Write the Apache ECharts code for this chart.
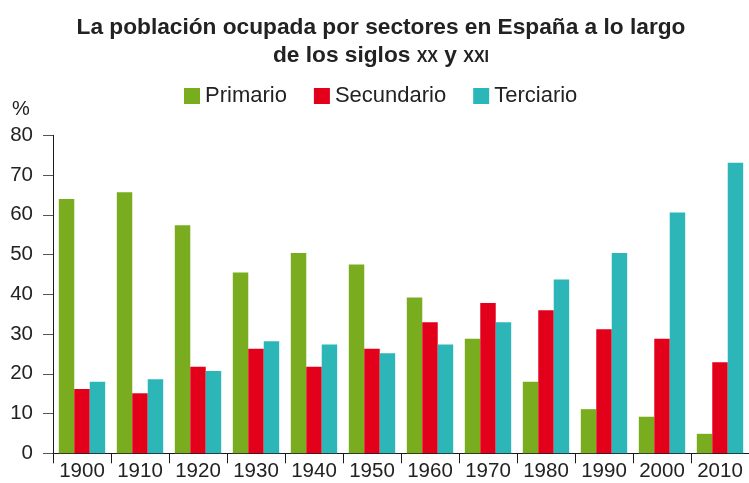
<!DOCTYPE html>
<html>
<head>
<meta charset="utf-8">
<script src="https://cdn.jsdelivr.net/npm/echarts@6/dist/echarts.min.js"></script>
<style>
html,body{margin:0;padding:0;background:#fff;}
#chart{width:749px;height:483px;}
</style>
</head>
<body>
<div id="chart"></div>
<script>
var categories = ['1900','1910','1920','1930','1940','1950','1960','1970','1980','1990','2000','2010'];
var primario   = [64.0, 65.7, 57.4, 45.5, 50.4, 47.5, 39.2, 28.8, 18.0, 11.1, 9.2, 4.9];
var secundario = [16.2, 15.1, 21.8, 26.3, 21.8, 26.3, 33.0, 37.8, 36.0, 31.2, 28.8, 22.9];
var terciario  = [18.0, 18.6, 20.7, 28.2, 27.4, 25.2, 27.4, 33.0, 43.7, 50.4, 60.6, 73.1];
var seriesNames = ['Primario', 'Secundario', 'Terciario'];
var yTicks = { min: 0, max: 80, interval: 10 };
var titleText = '{t|La población ocupada por sectores en España a lo largo}\n{t|de los siglos }{sc|XX}{t| y }{sc|XXI}';

var FONT = '"Liberation Sans", Arial, Helvetica, sans-serif';
var chart = echarts.init(document.getElementById('chart'), null, { renderer: 'canvas' });
var colors = ['#79ad1f', '#e2001a', '#2db6b8'];

chart.setOption({
  animation: false,
  backgroundColor: '#ffffff',
  color: colors,
  legend: {
    top: 85,
    left: 184,
    padding: 0,
    icon: 'rect',
    itemWidth: 16,
    itemHeight: 16,
    itemGap: 27,
    data: seriesNames,
    textStyle: { fontFamily: FONT, fontSize: 22, color: '#222' }
  },
  graphic: [{
    type: 'text',
    x: 381,
    y: 11,
    style: {
      text: titleText,
      align: 'center',
      verticalAlign: 'top',
      fontFamily: FONT,
      fontWeight: 'bold',
      fontSize: 22.7,
      lineHeight: 28,
      fill: '#222',
      rich: {
        t: { fontFamily: FONT, fontWeight: 'bold', fontSize: 22.7, lineHeight: 28, fill: '#222', verticalAlign: 'bottom' },
        sc: { fontFamily: FONT, fontWeight: 'bold', fontSize: 16, fill: '#222', verticalAlign: 'bottom', padding: [0, 0, 1, 0] }
      }
    }
  }, {
    type: 'text',
    left: 12,
    top: 99,
    style: { text: '%', fontFamily: FONT, fontSize: 20, fill: '#222' }
  }],
  grid: { left: 53, right: -6, top: 135.3, bottom: 29.7, containLabel: false },
  xAxis: {
    type: 'category',
    data: categories,
    axisLine: { show: true, lineStyle: { color: '#1a1a1a', width: 1 } },
    axisTick: { show: true, interval: 0, length: 10, lineStyle: { color: '#1a1a1a' } },
    axisLabel: { interval: 0, fontFamily: FONT, fontSize: 20.5, color: '#222', margin: 8 },
    splitLine: { show: false }
  },
  yAxis: {
    type: 'value',
    min: yTicks.min,
    max: yTicks.max,
    interval: yTicks.interval,
    axisLine: { show: true, lineStyle: { color: '#1a1a1a', width: 1 } },
    axisTick: { show: true, length: 10, lineStyle: { color: '#555' } },
    axisLabel: { fontFamily: FONT, fontSize: 20.5, color: '#222', margin: 20 },
    splitLine: { show: false }
  },
  series: [
    { name: seriesNames[0], type: 'bar', data: primario, barGap: '0%', barCategoryGap: '20%' },
    { name: seriesNames[1], type: 'bar', data: secundario, barGap: '0%', barCategoryGap: '20%' },
    { name: seriesNames[2], type: 'bar', data: terciario, barGap: '0%', barCategoryGap: '20%' }
  ]
});
</script>
</body>
</html>
